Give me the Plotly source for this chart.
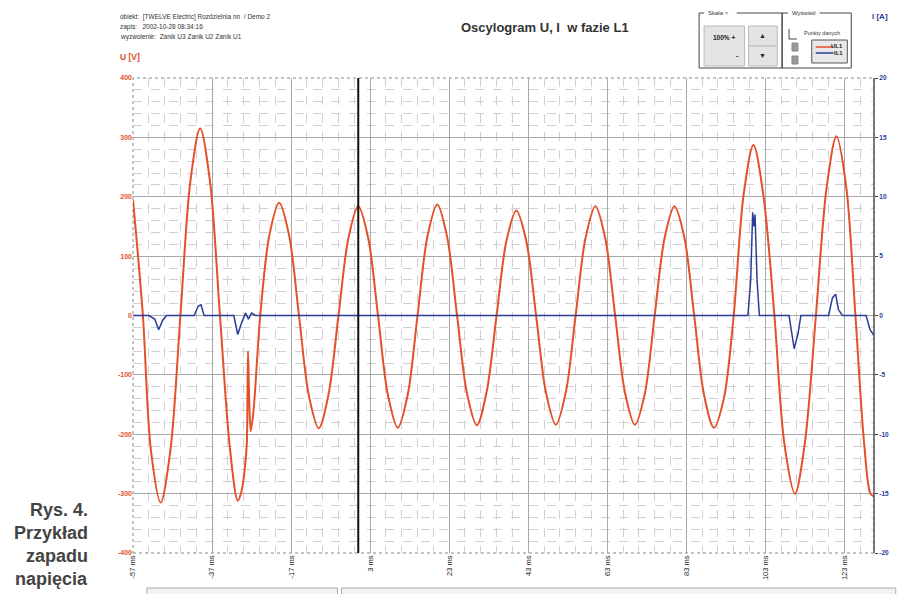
import plotly.graph_objects as go

# ---------------- data ----------------
t_u = [-57, -54.5, -52.5, -50, -47.5, -45, -42.5, -40, -37.5, -35, -32.5, -30.5, -29.5,
       -28.6, -28.2, -27.9, -27.6, -27.2, -26.5, -24.8, -22.5, -20, -17.5, -15, -12.5,
       -10, -7.5, -5, -2.5, 0, 2.5, 5, 7.5, 10, 12.5, 15, 17.5, 20, 22.5, 25, 27.5, 30,
       32.5, 35, 37.5, 40, 42.5, 45, 47.5, 50, 52.5, 55, 57.5, 60, 62.5, 65, 67.5, 70,
       72.5, 75, 77.5, 80, 82.5, 85, 87.5, 90, 92.5, 95, 97.5, 100, 102.5, 105.3, 107.8,
       110.5, 113, 115.8, 118.5, 121, 123.5, 125.8, 128, 129.6, 130.5]
u_L1 = [195, 0, -225, -315, -225, 0, 225, 315, 225, 0, -222, -312, -295,
        -250, -215, -60, -140, -195, -160, 0, 135, 190, 135, 0, -135,
        -190, -132, 0, 130, 184, 131, 0, -134, -189, -134, 0, 133, 187, 132, 0, -131, -185,
        -128, 0, 126, 177, 126, 0, -130, -184, -130, 0, 130, 184, 130, 0, -130, -184,
        -132, 0, 130, 184, 132, 0, -134, -189, -140, 0, 203, 287, 203, 0, -215,
        -300, -215, 0, 215, 302, 215, 0, -215, -300, -305]

t_i = [-57, -53, -51.5, -50.5, -49.5, -48.5, -41.5, -40.5, -39.8, -39, -31.5, -30.5,
       -29.5, -28.5, -27.8, -27, -26, 98.6, 99.3, 99.8, 100.1, 100.4, 100.9, 101.5,
       109, 110.3, 111.3, 112, 119, 120, 120.8, 121.5, 122.5, 128.5, 129.5, 130.5]
i_L1 = [0, 0, -0.3, -1.2, -0.4, 0, 0, 0.8, 0.9, 0, 0, -1.6,
        -0.6, 0.2, -0.3, 0.2, 0, 0, 3.0, 8.7, 7.5, 8.5, 3.0, 0,
        0, -2.8, -1.5, 0, 0, 1.5, 1.8, 0.5, 0, 0, -1.2, -1.7]

x_tickvals = [-57, -37, -17, 3, 23, 43, 63, 83, 103, 123]
x_ticktext = ["-57 ms", "-37 ms", "-17 ms", "3 ms", "23 ms", "43 ms", "63 ms", "83 ms", "103 ms", "123 ms"]
u_ticks = [-400, -300, -200, -100, 0, 100, 200, 300, 400]
i_ticks = [-20, -15, -10, -5, 0, 5, 10, 15, 20]
cursor_t = 0

RED = "#e4502a"
BLUE = "#2a3c98"

# ---------------- layout helpers ----------------
L, R, T, B = 133, 883, 78, 553
W, H = 901, 594


def px(x):
    return (x - L) / (R - L)


def py(y):
    return (B - y) / (B - T)


fig = go.Figure()
fig.add_trace(go.Scatter(x=t_u, y=u_L1, mode="lines", name="UL1",
                         line=dict(color=RED, width=2, shape="spline", smoothing=0.9),
                         yaxis="y"))
fig.add_trace(go.Scatter(x=t_i, y=i_L1, mode="lines", name="IL1",
                         line=dict(color=BLUE, width=1.5),
                         yaxis="y2"))

shapes = []
annotations = []

# plot border (dotted) and right axis line
shapes.append(dict(type="rect", xref="paper", yref="paper", x0=0, x1=1, y0=0, y1=1,
                   line=dict(color="#888888", width=1, dash="dot"), layer="below"))
shapes.append(dict(type="line", xref="paper", yref="paper", x0=1, x1=1, y0=0, y1=1,
                   line=dict(color="#555555", width=1.5)))
# cursor line
shapes.append(dict(type="line", xref="x", yref="paper", x0=cursor_t, x1=cursor_t, y0=0, y1=1,
                   line=dict(color="#111111", width=2)))


def rect(x0, y0, x1, y1, color="#555555", fill=None, width=1):
    d = dict(type="rect", xref="paper", yref="paper", x0=px(x0), x1=px(x1),
             y0=py(y1), y1=py(y0), line=dict(color=color, width=width))
    if fill:
        d["fillcolor"] = fill
    shapes.append(d)


def line(x0, y0, x1, y1, color="#555555", width=1):
    shapes.append(dict(type="line", xref="paper", yref="paper", x0=px(x0), x1=px(x1),
                       y0=py(y0), y1=py(y1), line=dict(color=color, width=width)))


def text(x, y, s, size=7, color="#333333", xa="left", ya="middle", bold=False, family="Liberation Sans"):
    annotations.append(dict(xref="paper", yref="paper", x=px(x), y=py(y), text=("<b>%s</b>" % s) if bold else s,
                            showarrow=False, xanchor=xa, yanchor=ya,
                            font=dict(size=size, color=color, family=family)))


# header texts
text(118, 17, "obiekt:  [TWELVE Electric] Rozdzielnia nn  / Demo 2", size=6.5)
text(118, 27, "zapis:   2002-10-28 08:34:16", size=6.5)
text(118, 37, "wyzwolenie:  Zanik U3 Zanik U2 Zanik U1", size=6.5)
text(118, 57, "U [V]", size=8.5, color=RED, bold=True)
text(899, 16, "I [A]", size=8, color=BLUE, xa="right", bold=True)
text(550, 28, "Oscylogram U, I  w fazie L1", size=13, color="#333333", xa="center", bold=True)

# control box
rect(706, 13, 790, 68, color="#444444")
rect(790, 13, 860, 68, color="#444444")
rect(711, 9, 744, 17, color="white", fill="white", width=0)
text(713, 13, "Skala >", size=6, color="#333")
rect(796, 9, 828, 17, color="white", fill="white", width=0)
text(798, 13, "Wyświetl", size=6, color="#333")
rect(711, 26, 752, 66, color="#bbbbbb", fill="#e4e4e4")
text(731, 38, "100% +", size=6.5, color="#222", xa="center", bold=True)
text(745, 55, "-", size=7, color="#222", xa="center", bold=True)
rect(756, 26, 785, 46, color="#bbbbbb", fill="#e4e4e4")
rect(756, 46, 785, 66, color="#bbbbbb", fill="#e4e4e4")
text(770.5, 36, "▲", size=7, color="#222", xa="center")
text(770.5, 56, "▼", size=7, color="#222", xa="center")
line(797, 29, 797, 39, color="#444")
line(797, 39, 805, 39, color="#444")
text(810, 33, "Punkty danych", size=5.5, color="#333")
rect(800, 43, 806, 51, color="#888888", fill="#9a9a9a")
rect(800, 56, 806, 64, color="#888888", fill="#9a9a9a")
rect(820, 40, 856, 63, color="#555555", fill="#e8e8e8")
line(824, 47, 842, 47, color=RED, width=1.5)
line(824, 53, 842, 53, color=BLUE, width=1.5)
text(854, 46, "UL1", size=6, color="#222", xa="right", bold=True)
text(854, 53, "IL1", size=6, color="#222", xa="right", bold=True)

# caption on the left
for yy, s in [(510, "Rys. 4."), (533, "Przykład"), (556, "zapadu"), (579, "napięcia")]:
    text(89, yy, s, size=18, color="#444444", xa="right", bold=True)

# bottom strip frames
rect(147, 588, 340, 600, color="#aaaaaa", fill="#f2f2f2")
rect(344, 588, 905, 600, color="#aaaaaa", fill="#f2f2f2")

fig.update_layout(
    width=W, height=H,
    margin=dict(l=L, r=W - R, t=T, b=H - B, pad=0),
    paper_bgcolor="white", plot_bgcolor="white",
    showlegend=False,
    shapes=shapes,
    annotations=annotations,
    xaxis=dict(range=[-57, 130.5], tickvals=x_tickvals, ticktext=x_ticktext, tickangle=-90,
               showgrid=True, gridcolor="#a8a8a8", gridwidth=1, zeroline=False,
               showline=False, ticks="", tickfont=dict(size=7.5, color="#222", family="Liberation Sans"),
               minor=dict(dtick=4, tick0=-57, showgrid=True, gridcolor="#d0d0d0", griddash="dash", gridwidth=1),
               fixedrange=True),
    yaxis=dict(range=[-400, 400], tickvals=u_ticks, ticktext=[str(v) for v in u_ticks],
               showgrid=True, gridcolor="#a8a8a8", gridwidth=1, zeroline=False,
               showline=False, ticks="",
               tickfont=dict(size=7, color=RED, family="Liberation Sans", weight="bold"),
               minor=dict(dtick=20, showgrid=True, gridcolor="#d0d0d0", griddash="dash", gridwidth=1),
               fixedrange=True),
    yaxis2=dict(range=[-20, 20], tickvals=i_ticks, ticktext=[str(v) for v in i_ticks],
                overlaying="y", side="right", showgrid=False, zeroline=False,
                showline=False, ticks="outside", ticklen=3, tickcolor="#444",
                tickfont=dict(size=6.5, color=BLUE, family="Liberation Sans", weight="bold"),
                fixedrange=True),
)

fig.write_html("out.html", config={"displayModeBar": False},
               post_script="document.body.style.margin='0';document.body.style.overflow='hidden';")
